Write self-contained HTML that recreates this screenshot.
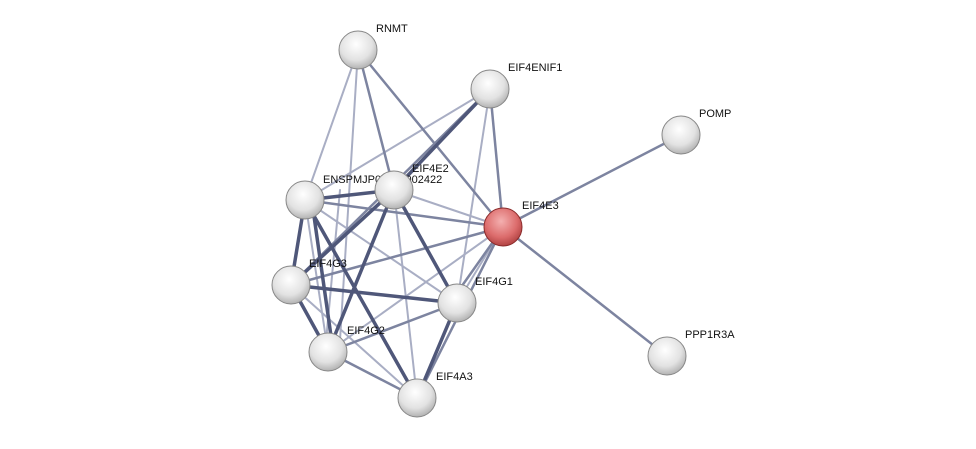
<!DOCTYPE html>
<html><head><style>
body{margin:0;background:#fff;}
svg text{font-family:"Liberation Sans",sans-serif;font-size:11px;fill:#111;}
</style></head><body>
<svg width="976" height="444" viewBox="0 0 976 444">
<defs>
<radialGradient id="g" cx="0.45" cy="0.35" r="0.7">
<stop offset="0" stop-color="#ffffff"/><stop offset="0.6" stop-color="#e2e2e2"/><stop offset="1" stop-color="#a8a8a8"/>
</radialGradient>
<radialGradient id="r" cx="0.45" cy="0.35" r="0.7">
<stop offset="0" stop-color="#f4b0b0"/><stop offset="0.6" stop-color="#dc6c6c"/><stop offset="1" stop-color="#a83a3a"/>
</radialGradient>
</defs>
<g stroke-linecap="round">
<!-- light edges -->
<g stroke="#a9aec4" stroke-width="2">
<line x1="358" y1="50" x2="305" y2="200"/>
<line x1="358" y1="50" x2="340" y2="340"/>
<line x1="490" y1="89" x2="305" y2="200"/>
<line x1="490" y1="89" x2="457" y2="303"/>
<line x1="503" y1="227" x2="394" y2="190"/>
<line x1="503" y1="227" x2="328" y2="352"/>
<line x1="503" y1="227" x2="457" y2="303"/>
<line x1="394" y1="190" x2="417" y2="398"/>
<line x1="305" y1="200" x2="328" y2="352"/>
<line x1="291" y1="285" x2="417" y2="398"/>
<line x1="394" y1="190" x2="328" y2="352"/>
<line x1="340" y1="190" x2="325" y2="352"/>
<line x1="305" y1="200" x2="457" y2="303"/>
</g>
<!-- medium edges -->
<g stroke="#7d84a0" stroke-width="2.5">
<line x1="358" y1="50" x2="394" y2="190"/>
<line x1="358" y1="50" x2="503" y2="227"/>
<line x1="490" y1="89" x2="503" y2="227"/>
<line x1="490" y1="89" x2="291" y2="285"/>
<line x1="503" y1="227" x2="681" y2="135"/>
<line x1="503" y1="227" x2="667" y2="356"/>
<line x1="503" y1="227" x2="305" y2="200"/>
<line x1="503" y1="227" x2="291" y2="285"/>
<line x1="503" y1="227" x2="417" y2="398"/>
<line x1="500" y1="232" x2="452" y2="300"/>
<line x1="457" y1="303" x2="328" y2="352"/>
<line x1="328" y1="352" x2="417" y2="398"/>
</g>
<!-- thick edges -->
<g stroke="#4f5779" stroke-width="3.5">
<line x1="490" y1="89" x2="394" y2="190"/>
<line x1="305" y1="200" x2="394" y2="190"/>
<line x1="305" y1="200" x2="291" y2="285"/>
<line x1="305" y1="200" x2="417" y2="398"/>
<line x1="394" y1="190" x2="291" y2="285"/>
<line x1="394" y1="190" x2="457" y2="303"/>
<line x1="394" y1="190" x2="328" y2="352"/>
<line x1="291" y1="285" x2="457" y2="303"/>
<line x1="291" y1="285" x2="328" y2="352"/>
<line x1="457" y1="303" x2="417" y2="398"/>
<line x1="312" y1="202" x2="333" y2="350"/>
</g>
</g>
<g stroke="#888" stroke-width="1">
<circle cx="358" cy="50" r="19" fill="url(#g)"/>
<circle cx="490" cy="89" r="19" fill="url(#g)"/>
<circle cx="681" cy="135" r="19" fill="url(#g)"/>
<circle cx="305" cy="200" r="19" fill="url(#g)"/>
<text x="323" y="183" stroke="none">ENSPMJP00000002422</text>
<circle cx="394" cy="190" r="19" fill="url(#g)"/>
<circle cx="503" cy="227" r="19" fill="url(#r)" stroke="#8a2a2a"/>
<circle cx="291" cy="285" r="19" fill="url(#g)"/>
<circle cx="457" cy="303" r="19" fill="url(#g)"/>
<circle cx="328" cy="352" r="19" fill="url(#g)"/>
<circle cx="417" cy="398" r="19" fill="url(#g)"/>
<circle cx="667" cy="356" r="19" fill="url(#g)"/>
</g>
<text x="376" y="32">RNMT</text>
<text x="508" y="71">EIF4ENIF1</text>
<text x="699" y="117">POMP</text>
<text x="412" y="172">EIF4E2</text>
<text x="522" y="209">EIF4E3</text>
<text x="309" y="267">EIF4G3</text>
<text x="475" y="285">EIF4G1</text>
<text x="347" y="334">EIF4G2</text>
<text x="436" y="380">EIF4A3</text>
<text x="685" y="338">PPP1R3A</text>
</svg>
</body></html>
